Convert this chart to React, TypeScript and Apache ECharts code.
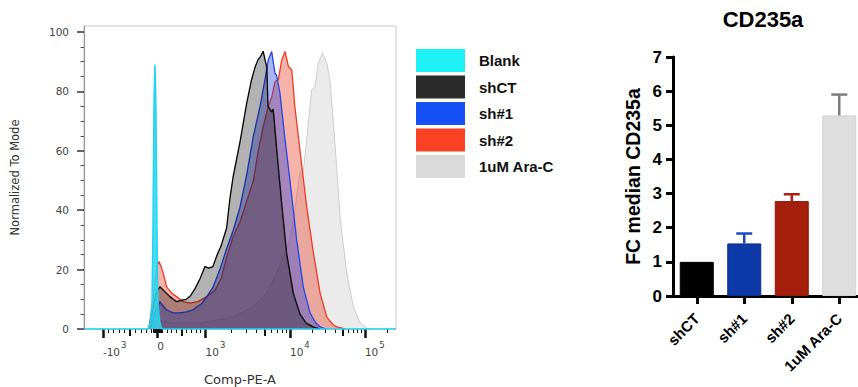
import React, { useEffect, useRef } from "react";
import * as echarts from "echarts";

// ---------------- Histogram overlay (x = display channel 0-1024, y = % of mode)
const legendNames = ["Blank", "shCT", "sh#1", "sh#2", "1uM Ara-C"];
const legendColors = ["#1ef2f6", "#2b2b2b", "#1450f5", "#fa4123", "#dadada"];

const blankHist: [number, number][] = [
  [0, 0], [210, 0], [217, 2], [223, 8], [226, 30], [230, 78], [233, 89], [236, 75],
  [240, 28], [243, 8], [249, 2], [256, 0], [1024, 0],
];
const shCTHist: [number, number][] = [
  [213, 0], [223, 5], [236, 12], [249, 14.2], [271, 12], [282, 10.9], [304, 9.2], [325, 9.8],
  [335, 10], [348, 11], [364, 13.5], [381, 17], [397, 21], [410, 20.5], [423, 21], [437, 25],
  [450, 28], [468, 34], [479, 44], [489, 51], [512, 63], [534, 76], [550, 84], [561, 88],
  [571, 90.6], [578, 91.5], [588, 93.5], [600, 88], [604, 75], [616, 73], [621, 74], [632, 61],
  [649, 42], [665, 25.5], [687, 12], [709, 5], [729, 2], [752, 0.7], [775, 0],
];
const sh1Hist: [number, number][] = [
  [217, 0], [230, 5], [249, 9.2], [271, 6.4], [292, 5.4], [315, 5.4], [337, 5.8], [358, 6.4],
  [371, 7.5], [386, 8.5], [403, 10.9], [423, 14], [446, 20], [468, 27], [489, 33], [512, 41],
  [534, 52], [556, 65], [578, 75], [594, 84], [605, 90.6], [616, 93.4], [627, 86], [632, 85.5],
  [643, 79.5], [660, 63.6], [676, 50], [698, 30], [720, 14], [742, 5.4], [761, 2], [775, 0.7],
  [794, 0],
];
const sh2Hist: [number, number][] = [
  [213, 0], [226, 10], [239, 21], [246, 22.7], [253, 21], [260, 18.8], [271, 14.2], [288, 12],
  [304, 10.9], [325, 9.2], [348, 8.7], [374, 9.2], [403, 10.9], [430, 13], [450, 17], [468, 24],
  [489, 31], [512, 36], [534, 43], [556, 50], [572, 60], [588, 68], [605, 75], [616, 78],
  [627, 83.3], [638, 84], [649, 90.6], [660, 93.4], [671, 88.3], [682, 87.2], [692, 75],
  [709, 60], [731, 41], [753, 25.5], [775, 12], [797, 4], [817, 1.5], [829, 0.7], [857, 0],
];
const araCHist: [number, number][] = [
  [217, 0], [239, 3], [292, 2], [381, 2], [489, 4], [555, 7.5], [600, 12], [632, 18.8],
  [653, 24], [676, 30], [687, 36], [698, 45], [709, 52.5], [720, 53.5], [731, 64], [742, 75],
  [747, 80.5], [758, 81.6], [769, 89.5], [783, 93], [797, 89.5], [807, 84], [818, 70],
  [829, 55], [840, 38], [862, 19], [884, 7.5], [906, 2], [928, 0.3], [945, 0],
];

// biexponential axis: tick values and the display channels of the decade anchors
const anchorValues = [-1000, 0, 1000, 10000, 100000];
const anchorChannels = [62, 240, 399, 676, 922];
const majorTickValues = [-1000, 0, 1000, 10000, 100000];
const majorTickLabels: [string, string][] = [["-10", "3"], ["0", ""], ["10", "3"], ["10", "4"], ["10", "5"]];
const midTickValues = [-500, 500, 5000, 50000];
const minorTickValues = [
  -900, -800, -700, -600, -400, -300, -200, -100, -80, -60, -40, -20, 20, 40, 60, 80,
  100, 200, 300, 400, 600, 700, 800, 900, 2000, 3000, 4000, 6000, 7000, 8000, 9000,
  20000, 30000, 40000, 60000, 70000, 80000, 90000, 200000,
];
const yMajorTicks = [0, 20, 40, 60, 80, 100];
const yMinorTicks = [5, 10, 15, 25, 30, 35, 45, 50, 55, 65, 70, 75, 85, 90, 95];

// ---------------- Bar chart
const barCategories = ["shCT", "sh#1", "sh#2", "1uM Ara-C"];
const barMeans = [1.0, 1.54, 2.78, 5.29];
const barErrors = [0, 0.29, 0.2, 0.61];
const barColors = ["#000000", "#0c38a8", "#a51f0c", "#dedede"];
const barBorders = ["#000000", "#0a2d8a", "#8a1a0a", "#d2d2d2"];
const errorColors = ["#000000", "#1d46c4", "#b3200f", "#7d7d7d"];

function toChannel(v: number): number {
  if (v <= anchorValues[2]) {
    if (v <= 0) return anchorChannels[1] + (v / 1000) * (anchorChannels[1] - anchorChannels[0]);
    return anchorChannels[1] + (v / 1000) * (anchorChannels[2] - anchorChannels[1]);
  }
  const d = Math.log10(v);
  const k = Math.min(Math.floor(d) - 3, 1);
  const c0 = anchorChannels[2 + k];
  const c1 = anchorChannels[3 + k];
  return c0 + (d - (3 + k)) * (c1 - c0);
}

const majorChannels = majorTickValues.map(toChannel);
const midChannels = midTickValues.map(toChannel);
const minorChannels = minorTickValues.map(toChannel);

const histFont = "DejaVu Sans";
const barFont = "Liberation Sans";

function histLine(name: string, data: [number, number][], line: string, lw: number, fill: string, op: number, z: number) {
  return {
    type: "line",
    name,
    data,
    z,
    xAxisIndex: 0,
    yAxisIndex: 0,
    symbol: "none",
    showSymbol: false,
    silent: true,
    clip: name !== "Blank",
    lineStyle: { color: line, width: lw },
    itemStyle: { color: line },
    areaStyle: { color: fill, opacity: op },
  };
}

export default function App() {
  const ref = useRef<HTMLDivElement>(null);
  useEffect(() => {
    const chart = echarts.init(ref.current!, null, { renderer: "svg" });
    const option: any = {
      animation: false,
      backgroundColor: "#ffffff",
      title: {
        text: "CD235a",
        left: 763,
        top: 8,
        padding: 0,
        textAlign: "center",
        textStyle: { fontSize: 22, fontWeight: "bold", color: "#000", fontFamily: barFont },
      },
      legend: {
        orient: "vertical",
        left: 416,
        top: 49,
        padding: 0,
        itemWidth: 49,
        itemHeight: 23,
        itemGap: 3.5,
        icon: "rect",
        selectedMode: false,
        data: legendNames.map((n, i) => ({ name: n, itemStyle: { color: legendColors[i], borderWidth: 0 } })),
        textStyle: { fontSize: 15, fontWeight: "bold", color: "#111", fontFamily: barFont, padding: [0, 0, 0, 9] },
      },
      grid: [
        { left: 84, top: 26, width: 312, height: 303, show: true, borderColor: "#c9c9c9", borderWidth: 1, outerBoundsMode: "none" },
        { left: 673, top: 57, width: 190, height: 239, outerBoundsMode: "none" },
      ],
      xAxis: [
        {
          type: "value", gridIndex: 0, min: 0, max: 1024, position: "bottom",
          axisLine: { show: false },
          axisTick: { show: true, customValues: majorChannels, length: 9, lineStyle: { color: "#111", width: 2.5 } },
          axisLabel: {
            show: true, customValues: majorChannels, align: "left", margin: 11,
            formatter: (v: number) => {
              const i = majorChannels.findIndex((c) => Math.abs(c - v) < 1e-6);
              const lab = majorTickLabels[i < 0 ? 0 : i];
              return lab[1] ? `{b|${lab[0]}}{s|${lab[1]}}` : `{b|${lab[0]}}`;
            },
            rich: {
              b: { fontSize: 10.5, color: "#444", fontFamily: histFont, verticalAlign: "bottom" },
              s: { fontSize: 8.5, color: "#444", fontFamily: histFont, verticalAlign: "bottom", padding: [0, 0, 8, 1] },
            },
          },
          splitLine: { show: false },
          name: "Comp-PE-A", nameLocation: "middle", nameGap: 44,
          nameTextStyle: { fontSize: 13, color: "#333", fontFamily: histFont },
        },
        {
          type: "value", gridIndex: 0, min: 0, max: 1024, position: "bottom",
          axisLine: { show: false },
          axisTick: { show: true, customValues: midChannels, length: 7, lineStyle: { color: "#111", width: 2 } },
          axisLabel: { show: false },
          splitLine: { show: false },
        },
        {
          type: "value", gridIndex: 0, min: 0, max: 1024, position: "bottom",
          axisLine: { show: false },
          axisTick: { show: true, customValues: minorChannels, length: 4, lineStyle: { color: "#111", width: 1 } },
          axisLabel: { show: false },
          splitLine: { show: false },
        },
        {
          type: "category", gridIndex: 1, data: barCategories, position: "bottom",
          axisLine: { show: true, lineStyle: { color: "#000", width: 3 } },
          axisTick: { show: true, alignWithLabel: true, length: 8, lineStyle: { color: "#000", width: 3 } },
          axisLabel: { rotate: 45, margin: 20, interval: 0, fontSize: 15, fontWeight: "bold", color: "#000", fontFamily: barFont },
          splitLine: { show: false },
        },
      ],
      yAxis: [
        {
          type: "value", gridIndex: 0, min: 0, max: 102, position: "left",
          axisLine: { show: true, lineStyle: { color: "#9a9a9a", width: 1.2 } },
          axisTick: { show: true, customValues: yMajorTicks, length: 7, lineStyle: { color: "#333", width: 1.5 } },
          axisLabel: { show: true, customValues: yMajorTicks, margin: 15, fontSize: 10.5, color: "#444", fontFamily: histFont },
          splitLine: { show: false },
          name: "Normalized To Mode", nameLocation: "middle", nameGap: 63,
          nameTextStyle: { fontSize: 11.5, color: "#333", fontFamily: histFont },
        },
        {
          type: "value", gridIndex: 0, min: 0, max: 102, position: "left",
          axisLine: { show: false },
          axisTick: { show: true, customValues: yMinorTicks, length: 3.5, lineStyle: { color: "#555", width: 1 } },
          axisLabel: { show: false },
          splitLine: { show: false },
        },
        {
          type: "value", gridIndex: 1, min: 0, max: 7, interval: 1, position: "left",
          axisLine: { show: true, lineStyle: { color: "#000", width: 3 } },
          axisTick: { show: true, length: 7, lineStyle: { color: "#000", width: 3 } },
          axisLabel: { margin: 11, fontSize: 17, fontWeight: "bold", color: "#000", fontFamily: barFont },
          splitLine: { show: false },
          name: "FC median CD235a", nameLocation: "middle", nameGap: 30,
          nameTextStyle: { fontSize: 19.5, fontWeight: "bold", color: "#000", fontFamily: barFont },
        },
      ],
      series: [
        histLine("1uM Ara-C", araCHist, "#cdcdcd", 1, "#d2d2d2", 0.45, 1),
        histLine("sh#2", sh2Hist, "#f03a24", 1.3, "#e8402a", 0.4, 2),
        histLine("sh#1", sh1Hist, "#2346e8", 1.3, "#2a44d8", 0.4, 3),
        histLine("shCT", shCTHist, "#000000", 1.3, "#000000", 0.3, 4),
        histLine("Blank", blankHist, "#22d2f0", 1.5, "#2ad8f2", 0.85, 5),
        {
          type: "bar",
          xAxisIndex: 3,
          yAxisIndex: 2,
          barWidth: 34,
          silent: true,
          data: barMeans.map((v, i) => ({
            value: v,
            itemStyle: { color: barColors[i], borderColor: barBorders[i], borderWidth: 1 },
          })),
        },
        {
          type: "custom",
          xAxisIndex: 3,
          yAxisIndex: 2,
          silent: true,
          z: 5,
          encode: { x: 0, y: 1 },
          data: barMeans.map((m, i) => [i, m, barErrors[i]]),
          renderItem: (params: any, api: any) => {
            const i = api.value(0);
            const m = api.value(1);
            const e = api.value(2);
            if (!e) return { type: "group", children: [] };
            const base = api.coord([i, m]);
            const top = api.coord([i, m + e]);
            const color = errorColors[params.dataIndex];
            const half = 8;
            return {
              type: "group",
              children: [
                { type: "line", shape: { x1: base[0], y1: base[1], x2: top[0], y2: top[1] }, style: { stroke: color, lineWidth: 2.5 } },
                { type: "line", shape: { x1: top[0] - half, y1: top[1], x2: top[0] + half, y2: top[1] }, style: { stroke: color, lineWidth: 2.5 } },
              ],
            };
          },
        },
      ],
    };
    chart.setOption(option);
    return () => chart.dispose();
  }, []);
  return (
    <div
      ref={ref}
      style={{ position: "fixed", left: 0, top: 0, width: 858, height: 387, background: "#fff" }}
    />
  );
}
